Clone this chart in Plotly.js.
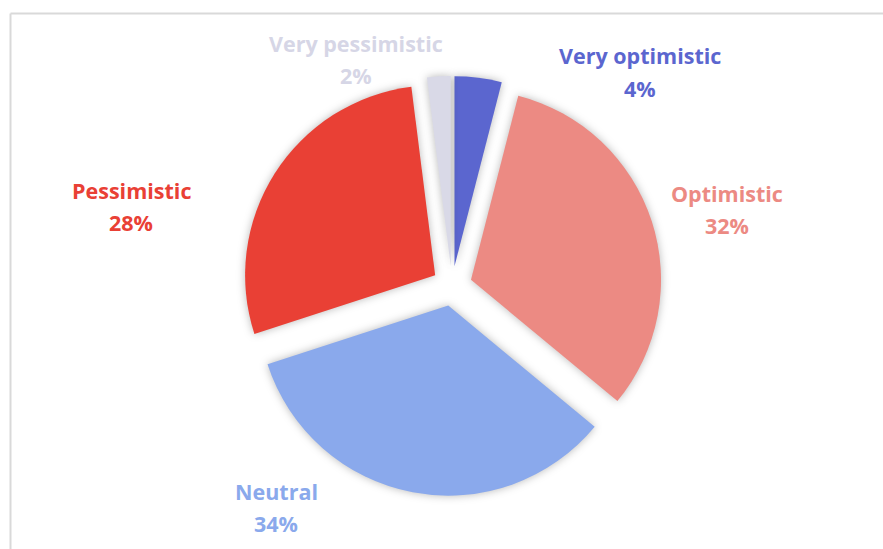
<!DOCTYPE html>
<html>
<head>
<meta charset="utf-8">
<script src="https://cdn.plot.ly/plotly-3.0.1.min.js"></script>
<style>
  html, body { margin: 0; padding: 0; background: #fff; }
  #chart { width: 883px; height: 549px; }
  #chart g.slice path.surface { filter: drop-shadow(0px 0px 4px rgba(0,0,0,0.28)); }
  #chart .annotation-text { font-variant-ligatures: none; }
</style>
</head>
<body>
<div id="chart"></div>
<script>
// Data
const categories = ["Very optimistic", "Optimistic", "Neutral", "Pessimistic", "Very pessimistic"];
const shares = [4, 32, 34, 28, 2];

// Styles
const colors = ["#5b66cf", "#ec8a83", "#8aa9ec", "#e94035", "#d9d9e7"];
const labelColors = ["#5b66cf", "#ec8a83", "#8aa9ec", "#e94035", "#d6d6e6"];
// Label anchor positions (pixels from top-left): name line and percent line
const labelPos = [
  [640, 56, 88],
  [727, 193, 225],
  [276, 491, 523],
  [131, 190, 222],
  [356, 44, 75]
];

const W = 883, H = 549;
const cx = 452, cy = 286, half = 210;

const annotations = [];
categories.forEach((c, i) => {
  const [px, py1, py2] = labelPos[i];
  const font = {family: "'Open Sans', sans-serif", size: 21.5, color: labelColors[i], weight: 700};
  annotations.push({xref: "paper", yref: "paper", x: px / W, y: 1 - py1 / H, text: "<b>" + c + "</b>",
    showarrow: false, xanchor: "center", yanchor: "middle", font: font});
  annotations.push({xref: "paper", yref: "paper", x: px / W, y: 1 - py2 / H, text: "<b>" + shares[i] + "%</b>",
    showarrow: false, xanchor: "center", yanchor: "middle", font: font});
});

const trace = {
  type: "pie",
  labels: categories,
  values: shares,
  sort: false,
  direction: "clockwise",
  rotation: 0,
  pull: categories.map(() => 0.105),
  marker: {colors: colors, line: {width: 0}},
  textinfo: "none",
  hoverinfo: "label+percent",
  showlegend: false,
  domain: {x: [(cx - half) / W, (cx + half) / W], y: [1 - (cy + half) / H, 1 - (cy - half) / H]}
};

const layout = {
  width: W, height: H,
  margin: {l: 0, r: 0, t: 0, b: 0},
  paper_bgcolor: "#ffffff",
  showlegend: false,
  annotations: annotations,
  shapes: [
    {type: "line", xref: "paper", yref: "paper", x0: 10.5 / W, x1: 1, y0: 1 - 13.5 / H, y1: 1 - 13.5 / H,
      line: {color: "#d9d9d9", width: 2}},
    {type: "line", xref: "paper", yref: "paper", x0: 10.5 / W, x1: 10.5 / W, y0: 0, y1: 1 - 13.5 / H,
      line: {color: "#d9d9d9", width: 2}}
  ]
};

Plotly.newPlot("chart", [trace], layout, {displayModeBar: false, staticPlot: true});
</script>
</body>
</html>
